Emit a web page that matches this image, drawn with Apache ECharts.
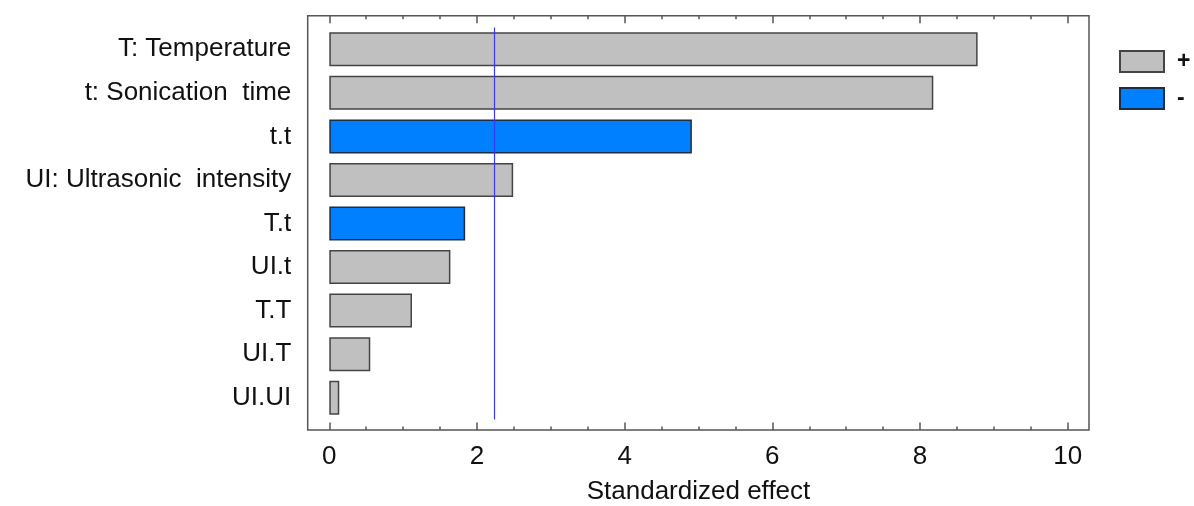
<!DOCTYPE html>
<html>
<head>
<meta charset="utf-8">
<script src="https://cdn.jsdelivr.net/npm/echarts@6/dist/echarts.min.js"></script>
<style>html,body{margin:0;padding:0;background:#fff;}#c{width:1194px;height:506px;}</style>
</head>
<body>
<div id="c"></div>
<script>
const categories = ['T: Temperature', 't: Sonication  time', 't.t', 'UI: Ultrasonic  intensity', 'T.t', 'UI.t', 'T.T', 'UI.T', 'UI.UI'];
const effects = [8.78, 8.18, 4.91, 2.49, 1.84, 1.64, 1.12, 0.555, 0.135];
const signs = ['+', '+', '-', '+', '-', '+', '+', '+', '+'];
const critical = 2.23;
const xMin = 0, xMax = 10, xStep = 2;

const FONT = "'Liberation Sans', Arial, sans-serif";
const axisCol = '#555';
const chart = echarts.init(document.getElementById('c'));
const tickAxis = (pos, withLabels) => ({
  gridIndex: 1, type: 'value', position: pos, min: xMin, max: xMax, interval: xStep,
  axisLine: { show: false },
  axisTick: { show: true, inside: true, length: 7.5, lineStyle: { color: axisCol, width: 1.5 } },
  minorTick: { show: true, splitNumber: 4, length: 3.5, lineStyle: { color: axisCol, width: 1.5 } },
  splitLine: { show: false }, minorSplitLine: { show: false },
  axisLabel: { show: withLabels, fontSize: 26, fontFamily: FONT, color: '#111', margin: 14 },
  name: withLabels ? 'Standardized effect' : '',
  nameLocation: 'middle', nameGap: 49,
  nameTextStyle: { fontSize: 26, fontFamily: FONT, color: '#111' }
});
const option = {
  animation: false,
  backgroundColor: '#fff',
  grid: [
    { left: 307.7, right: 105, top: 15.7, bottom: 76, outerBoundsMode: 'none', containLabel: false, show: true, borderColor: axisCol, borderWidth: 1.5, backgroundColor: 'transparent' },
    { left: 329.3, right: 126.3, top: 15.7, bottom: 76, outerBoundsMode: 'none', containLabel: false },
    { left: 329.3, right: 126.3, top: 27.5, bottom: 86.5, outerBoundsMode: 'none', containLabel: false }
  ],
  xAxis: [
    { gridIndex: 0, type: 'value', show: false, min: 0, max: 1 },
    tickAxis('bottom', true),
    tickAxis('top', false),
    { gridIndex: 2, type: 'value', min: xMin, max: xMax, show: false }
  ],
  yAxis: [
    { gridIndex: 0, type: 'value', show: false, min: 0, max: 1 },
    { gridIndex: 1, type: 'value', show: false, min: 0, max: 1 },
    { gridIndex: 2, type: 'category', data: categories, inverse: true,
      axisLine: { show: false }, axisTick: { show: false }, splitLine: { show: false },
      axisLabel: { margin: 38, fontSize: 26, fontFamily: FONT, color: '#111' } }
  ],
  legend: {
    orient: 'vertical', left: 1114, top: 45, itemWidth: 44, itemHeight: 21, itemGap: 14,
    icon: 'rect',
    textStyle: { fontSize: 23, fontWeight: 'bold', fontFamily: FONT, color: '#111', padding: [0, 0, 0, 8] },
    data: ['+', '-']
  },
  series: [
    {
      name: '+', type: 'bar', xAxisIndex: 3, yAxisIndex: 2, barWidth: 34, barGap: '-100%',
      data: effects.map((v, i) => signs[i] === '+' ? v : null),
      itemStyle: { color: '#c0c0c0', borderColor: '#444', borderWidth: 1.5 },
      markLine: {
        silent: true, symbol: 'none', label: { show: false },
        lineStyle: { color: '#3a3aff', width: 1.2, type: 'solid' },
        data: [{ xAxis: critical }]
      }
    },
    {
      name: '-', type: 'bar', xAxisIndex: 3, yAxisIndex: 2, barWidth: 34, barGap: '-100%',
      data: effects.map((v, i) => signs[i] === '-' ? v : null),
      itemStyle: { color: '#0080ff', borderColor: '#1c2e44', borderWidth: 1.5 }
    }
  ]
};
chart.setOption(option);
</script>
</body>
</html>
